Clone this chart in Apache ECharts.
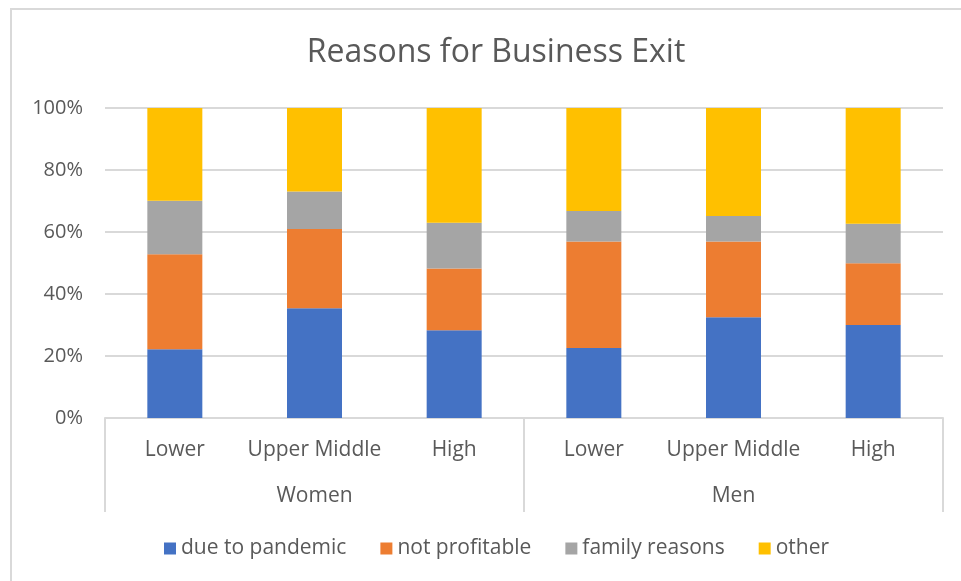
<!DOCTYPE html>
<html>
<head>
<meta charset="utf-8">
<style>
  html, body { margin: 0; padding: 0; background: #fff; }
  #chart { width: 961px; height: 581px; }
</style>
<script src="https://cdn.jsdelivr.net/npm/echarts@6/dist/echarts.min.js"></script>
</head>
<body>
<div id="chart"></div>
<script>
// Income groups within each gender block
const categories = ['Lower', 'Upper Middle', 'High', 'Lower', 'Upper Middle', 'High'];
const groups = ['Women', 'Men'];
const yTicks = [0, 20, 40, 60, 80, 100];

// Share of exits by reason (percent of each bar)
const dueToPandemic = [22.2, 35.4, 28.3, 22.6, 32.5, 30.0];
const notProfitable = [30.6, 25.6, 19.9, 34.3, 24.4, 19.9];
const familyReasons = [17.3, 12.1, 14.8, 9.9, 8.3, 12.8];
const other = [29.9, 26.9, 37.0, 33.2, 34.8, 37.3];

const seriesNames = ['due to pandemic', 'not profitable', 'family reasons', 'other'];
const seriesData = [dueToPandemic, notProfitable, familyReasons, other];
const colors = ['#4472c4', '#ed7d31', '#a5a5a5', '#ffc000'];

const textColor = '#595959';
const lineColor = '#d9d9d9';
const fontFamily = '"Open Sans", "Noto Sans", sans-serif';

const chart = echarts.init(document.getElementById('chart'));

chart.setOption({
  animation: false,
  textStyle: { fontFamily: fontFamily, color: textColor },
  color: colors,
  title: {
    text: 'Reasons for Business Exit',
    left: 491,
    textAlign: 'center',
    top: 32,
    textStyle: { fontFamily: fontFamily, fontSize: 32, fontWeight: 'normal', color: textColor }
  },
  graphic: [{
    type: 'rect',
    shape: { x: 11, y: 9, width: 1200, height: 1000 },
    style: { fill: 'none', stroke: lineColor, lineWidth: 2 },
    silent: true
  }],
  legend: {
    left: 159,
    top: 533,
    itemWidth: 12,
    itemHeight: 12,
    itemGap: 34,
    icon: 'rect',
    textStyle: { fontFamily: fontFamily, fontSize: 21, color: textColor },
    data: seriesNames
  },
  grid: { left: 105, right: 18, top: 108, bottom: 163, containLabel: false },
  xAxis: [
    {
      type: 'category',
      data: categories,
      position: 'bottom',
      axisLine: { show: true, lineStyle: { color: lineColor, width: 2 } },
      axisTick: { show: false },
      axisLabel: { margin: 22, fontSize: 21, color: textColor, fontFamily: fontFamily, interval: 0 }
    },
    {
      type: 'category',
      data: groups,
      position: 'bottom',
      axisLine: { show: false },
      axisTick: { show: true, length: 94, lineStyle: { color: lineColor, width: 2 } },
      axisLabel: { margin: 68, fontSize: 21, color: textColor, fontFamily: fontFamily }
    }
  ],
  yAxis: {
    type: 'value',
    min: yTicks[0],
    max: yTicks[yTicks.length - 1],
    interval: yTicks[1] - yTicks[0],
    axisLine: { show: false },
    axisTick: { show: false },
    splitLine: { lineStyle: { color: lineColor, width: 2 } },
    axisLabel: { margin: 22, fontSize: 20, color: textColor, fontFamily: fontFamily, formatter: '{value}%' }
  },
  series: seriesNames.map((name, i) => ({
    name: name,
    type: 'bar',
    stack: 'total',
    xAxisIndex: 0,
    barWidth: 55,
    data: seriesData[i],
    itemStyle: { color: colors[i] }
  }))
});
</script>
</body>
</html>
